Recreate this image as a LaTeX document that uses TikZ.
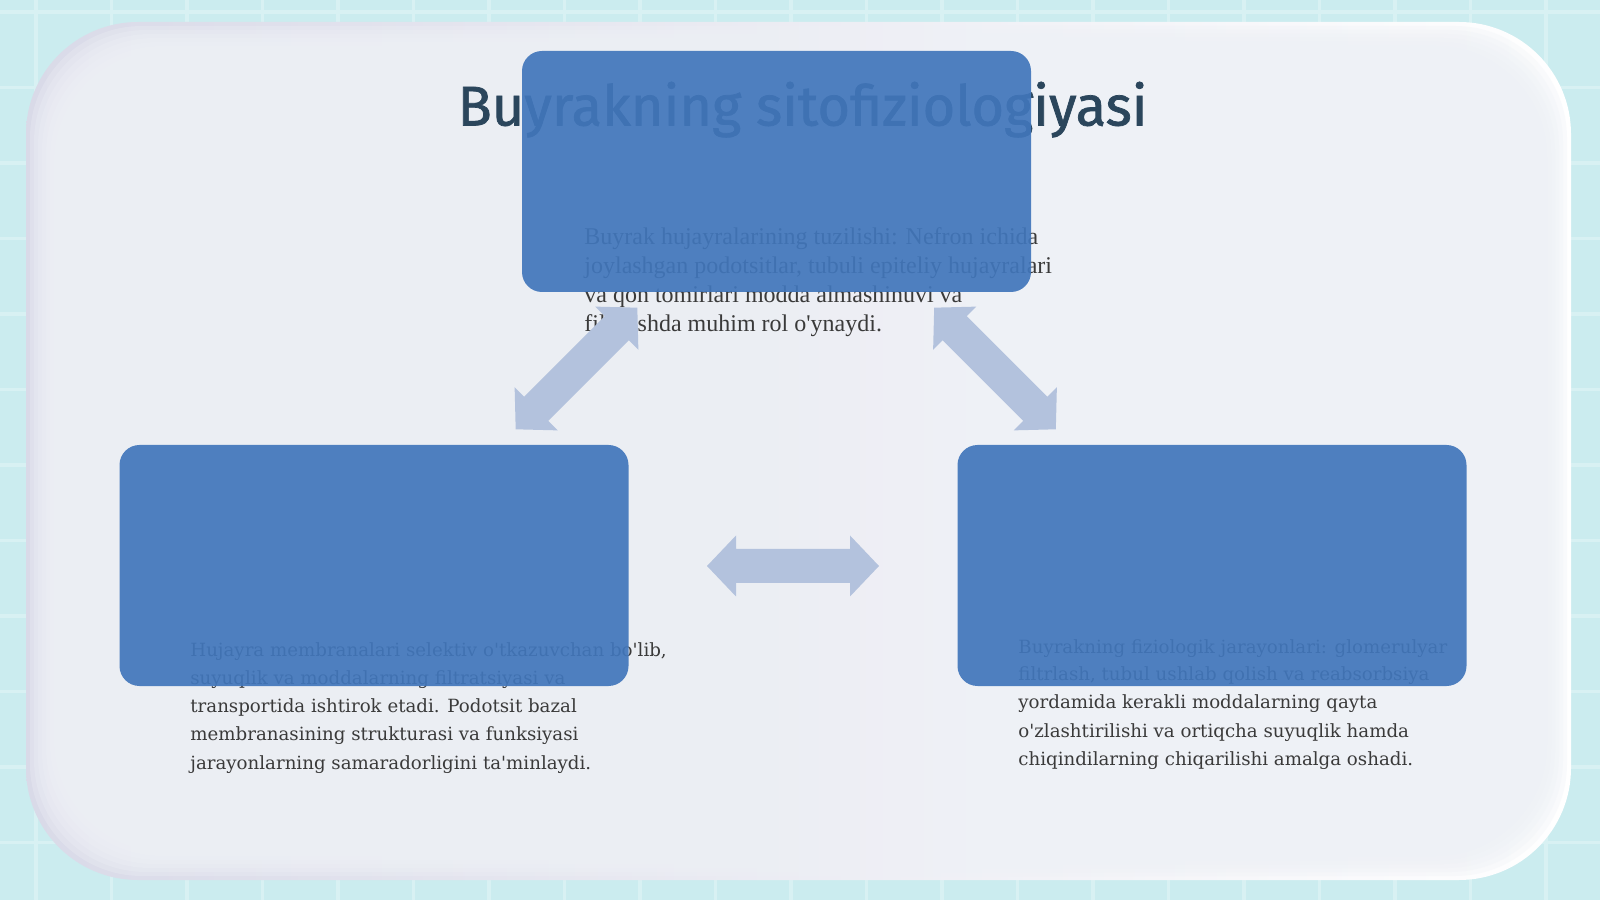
\documentclass[tikz,border=0pt]{standalone}
\usepackage{fontspec}
\setmainfont{Liberation Serif}[Ligatures=TeXOff]
\newfontfamily\sidefont{DejaVu Serif}[Ligatures=TeXOff]
\newfontfamily\titlefont{Fira Sans}[FakeBold=1.3]
\definecolor{bgcyan}{HTML}{CBECEF}
\definecolor{gridcol}{HTML}{D8F1F3}
\definecolor{panelgrey}{HTML}{D9DAE8}
\definecolor{panelin}{HTML}{EEF1F6}
\definecolor{boxblue}{HTML}{4176BB}
\definecolor{arrowcol}{HTML}{B3C2DD}
\definecolor{titlecol}{HTML}{2B465C}
\definecolor{textcol}{HTML}{3A3A3A}
\tikzset{
  gridline/.style={gridcol, line width=1.6pt},
  bluebox/.style={draw=none, fill=boxblue, fill opacity=0.92, rounded corners=10pt,
    minimum width=254.5pt, minimum height=120.5pt, inner sep=0pt},
  toptext/.style={text=textcol, inner sep=0pt, anchor=base west,
    font=\fontsize{12}{14.4}\selectfont},
  sidetext/.style={text=textcol, inner sep=0pt, anchor=base west,
    font=\sidefont\fontsize{9.1}{14}\selectfont},
  titletext/.style={text=titlecol, inner sep=0pt, anchor=base,
    font=\titlefont\fontsize{28}{34}\selectfont},
  dblarrow/.pic={\fill[arrowcol] (-86,0) -- (-57,30.5) -- (-57,17) -- (57,17) -- (57,30.5)
     -- (86,0) -- (57,-30.5) -- (57,-17) -- (-57,-17) -- (-57,-30.5) -- cycle;}
}
\begin{document}
\begin{tikzpicture}[x=0.5pt,y=0.5pt]
\useasboundingbox (0,0) rectangle (1600,900);
\fill[bgcyan] (0,0) rectangle (1600,900);
\foreach \i in {0,...,21} \draw[gridline] (36+\i*75.5,0) -- ++(0,900);
\foreach \j in {0,...,12} \draw[gridline] (0,888-\j*75.5) -- ++(1600,0);
% panel
\shade[rounded corners=56pt, shading angle=135, left color=panelgrey, right color=white]
  (26,20) rectangle (1571,878);
\foreach \k in {1,...,9}{
  \fill[panelin, fill opacity=0.3, rounded corners=56pt]
    (26+\k*4,20+\k*4) rectangle (1571-\k*4,878-\k*4);
}
% title
\node[titletext] (title) at (802.6,774.5) {Buyrakning sitofiziologiyasi};
% texts
\node[toptext] (ttop) at (584,655) {\parbox[t]{300pt}{\raggedright
Buyrak hujayralarining tuzilishi: Nefron ichida\\
joylashgan podotsitlar, tubuli epiteliy hujayralari\\
va qon tomirlari modda almashinuvi va\\
filtrlashda muhim rol o'ynaydi.}};
\node[sidetext] (tleft) at (190,243) {\parbox[t]{300pt}{\raggedright
Hujayra membranalari selektiv o'tkazuvchan bo'lib,\\
suyuqlik va moddalarning filtratsiyasi va\\
transportida ishtirok etadi. Podotsit bazal\\
membranasining strukturasi va funksiyasi\\
jarayonlarning samaradorligini ta'minlaydi.}};
\node[sidetext] (tright) at (1018,247) {\parbox[t]{300pt}{\raggedright
Buyrakning fiziologik jarayonlari: glomerulyar\\
filtrlash, tubul ushlab qolish va reabsorbsiya\\
yordamida kerakli moddalarning qayta\\
o'zlashtirilishi va ortiqcha suyuqlik hamda\\
chiqindilarning chiqarilishi amalga oshadi.}};
% boxes
\node[bluebox] (btop) at (776.5,728.5) {};
\node[bluebox] (bleft) at (374,334.5) {};
\node[bluebox] (bright) at (1212,334.5) {};
% arrows
\pic[rotate=45] (aleft) at (576.5,531.5) {dblarrow};
\pic[rotate=-45] (aright) at (995,531.5) {dblarrow};
\pic (amid) at (793,334) {dblarrow};
\end{tikzpicture}
\end{document}
